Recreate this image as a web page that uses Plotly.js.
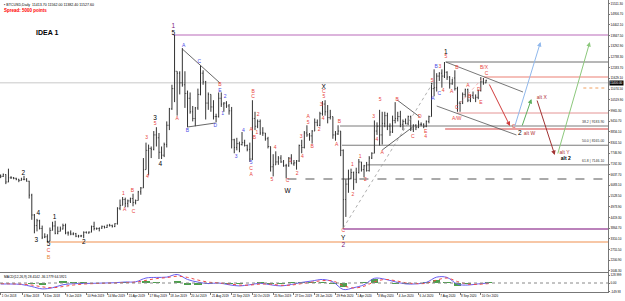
<!DOCTYPE html>
<html><head><meta charset="utf-8">
<script src="https://cdn.plot.ly/plotly-3.0.1.min.js"></script>
<style>html,body{margin:0;padding:0;background:#fff;}#chart{width:625px;height:301px;}</style>
</head><body><div id="chart"></div>
<script>
// ---------- DATA ----------
// 4-day OHLC bars of BTCUSD starting 2018-10-01 (day 0), step 4 days
const barHigh = [
6650,6700,6660,6950,6560,6520,6480,6420,6480,6580,
6460,6320,5650,4600,4350,4300,4000,3600,3550,3900,
4200,4250,3950,3950,4100,4100,3700,3750,3650,3620,
3520,3520,3700,3700,3700,4000,4200,3900,3900,4000,
3990,4050,4090,4050,4120,4950,5350,5480,5450,5350,
5450,5650,5350,5800,6000,7500,8300,8200,8100,8900,
9100,8800,8100,8300,9400,10100,11300,13880,12000,12000,
13200,12000,11000,10900,10200,10150,11100,12300,12050,11500,
10900,10800,10500,9800,10900,10900,10400,10450,10300,10150,
8500,8550,8350,8850,8450,8200,8300,10500,9900,9500,
9500,9100,8800,8600,8100,7700,7850,7600,7650,7400,
7200,7550,7700,7400,7400,8200,8450,8900,9200,8800,
8950,9550,9500,9900,10450,10500,10250,10000,9650,8900,
9200,8900,7950,6400,6900,6950,6800,7000,7450,7300,
7150,7300,7600,7800,9450,9350,10000,9900,9900,9850,
9300,9700,10400,9900,9950,9500,9550,9700,9700,9250,
9250,9450,9350,9300,9450,9700,11400,12100,11900,11950,
12100,12480,12000,11750,11600,12050,11200,10450,10900,11100,
11100,10800,10950,10800,11050,11700,11650,11560];
const barLow = [
6460,6520,6150,6250,6420,6400,6350,6250,6330,6350,
6280,5400,4300,3600,3700,3800,3300,3350,3150,3200,
3750,3550,3550,3700,3800,3550,3480,3500,3500,3400,
3380,3400,3350,3600,3580,3650,3750,3780,3700,3830,
3850,3880,3950,3900,3920,4050,4800,5050,4950,4950,
5170,5000,5100,5300,5600,5950,6900,6600,7500,7900,
8100,7450,7450,7550,8050,8950,10000,10400,9700,10800,
11200,10100,9100,9800,9400,9150,10000,10750,11300,9500,
10000,9900,9500,9350,9600,10150,9900,10100,9750,8000,
7750,7900,7800,8150,8100,7850,7300,7400,8950,9050,
8700,8650,8400,8000,6800,6550,7150,7150,7250,7050,
6450,7050,7200,7100,6900,7300,7750,8000,8600,8400,
8250,8900,9150,9150,9700,9700,9300,9500,8500,8400,
8700,7600,3850,4450,5700,6400,5850,6200,6700,6800,
6500,6800,6800,7450,7750,8700,8150,8200,9100,8950,
8650,8800,9300,9400,9100,8950,9250,9200,8900,8850,
8950,9050,9150,9050,9100,9300,9650,10700,10950,11500,
11150,11650,11550,11100,11300,11000,9900,9900,10300,10650,
10400,10400,10600,10400,10550,10950,11300,11380];
const barClose = [
6550,6650,6260,6480,6480,6450,6400,6340,6400,6400,
6300,5580,4550,4000,4250,3850,3400,3420,3200,3750,
3980,3600,3700,3820,4000,3620,3620,3560,3580,3450,
3460,3470,3650,3620,3660,3950,3850,3850,3870,3960,
3900,4020,4000,3950,4100,4900,5050,5350,5150,5280,
5400,5200,5300,5750,5950,6900,7900,8000,7950,8700,
8550,7800,7650,8200,9200,10050,11100,12000,11900,11400,
11300,10850,10600,9900,9550,10100,10800,11900,11450,10350,
10800,10150,9650,9650,10600,10300,10350,10200,9950,8450,
8050,8250,8200,8300,8150,7950,7450,9550,9150,9400,
8800,8800,8500,8100,7050,7150,7300,7500,7300,7100,
7100,7500,7200,7250,7350,8150,8050,8800,8700,8650,
8900,9350,9200,9800,10300,9900,9600,9650,8700,8750,
8900,7900,5350,6150,6450,6750,6400,6750,7300,6900,
7100,6850,7500,7750,8900,9150,8700,9300,9700,9150,
8850,9450,9550,9650,9250,9400,9300,9650,9000,9200,
9100,9250,9250,9150,9400,9650,11100,11150,11750,11900,
11750,11950,11700,11350,11650,11100,10350,10350,10800,11050,
10500,10750,10600,10650,11000,11450,11400,11530];
const firstOpen = 6600;
const barStepDays = 4;

// oscillator (MACD-like) sampled every 16 days
const oscMain = [-17,-17,-25,-60,-100,-80,-30,-12,-8,-5,0,5,17,20,85,95,100,145,60,15,-10,0,-30,-50,-30,-5,-30,-50,-25,10,35,60,20,-110,-80,-30,80,65,20,-15,-15,10,100,95,-20,-35,-15,0];
const oscSignal = [-10,-14,-18,-35,-65,-80,-60,-35,-18,-10,-5,0,8,15,45,75,92,115,95,50,15,2,-15,-35,-35,-18,-20,-38,-35,-10,15,40,35,-45,-85,-55,20,60,40,5,-10,-5,50,85,25,-20,-22,-10];
const oscHist = [-7,-3,-7,-25,-35,0,30,23,10,5,5,5,9,5,40,20,8,30,-35,-35,-25,-2,-15,-15,5,13,-10,-12,10,20,20,20,-15,-65,5,25,60,5,-20,-20,-5,15,50,10,-45,-15,7,10];
const oscStepDays = 16;

// axis ticks
const xTickDates = ['2018-10-01','2018-11-04','2018-12-06','2019-01-09','2019-02-10','2019-03-14','2019-04-15','2019-05-17','2019-06-18','2019-07-20','2019-08-21','2019-09-22','2019-10-24','2019-11-25','2019-12-27','2020-01-28','2020-02-29','2020-04-01','2020-05-03','2020-06-04','2020-07-06','2020-08-07','2020-09-08','2020-10-10'];
const xTickLabels = ['1 Oct 2018','4 Nov 2018','6 Dec 2018','9 Jan 2019','10 Feb 2019','14 Mar 2019','15 Apr 2019','17 May 2019','18 Jun 2019','20 Jul 2019','21 Aug 2019','22 Sep 2019','24 Oct 2019','25 Nov 2019','27 Dec 2019','28 Jan 2020','29 Feb 2020','1 Apr 2020','3 May 2020','4 Jun 2020','6 Jul 2020','7 Aug 2020','8 Sep 2020','10 Oct 2020'];
const yTickValues = [1646.3,2200.9,2755.5,3310.1,3864.7,4419.3,4973.9,5528.5,6083.1,6637.7,7192.3,7746.9,8301.5,8856.1,9410.7,9965.3,10519.9,11074.5,11629.1,12183.7,12738.3,13292.9,13847.5,14402.1,14956.7,15511.3];
const yTickLabels = ['1646.30','2200.90','2755.50','3310.10','3864.70','4419.30','4973.90','5528.50','6083.10','6637.70','7192.30','7746.90','8301.50','8856.10','9410.70','9965.30','10519.90','11074.50','11629.10','12183.70','12738.30','13292.90','13847.50','14402.10','14956.70','15511.30'];
const oscTickValues = [129, 0, -150];
const oscTickLabels = ['128.999','0.00','-149.93'];
const bidPrice = 11400;

// horizontal levels (price, from day, to day)
const levelPrices   = [13880, 11400, 12480, 11702, 9836, 9162, 9007, 8165, 7147, 6415, 3823, 3149, 11132];
const levelFromDays = [266, -2, 686, 745, 703, 523, 685, 526, 565, 442, 528, 75, 898];
const levelToDays   = [936, 936, 936, 936, 936, 936, 936, 936, 936, 932, 936, 936, 932];
const fibPrices = [9162, 8165, 7147];
const fibLabels = ['38.2 | 9183.90', '50.0 | 8165.00', '61.8 | 7146.10'];

// trend / pattern lines
const lineStartDays   = [280, 288, 611, 588, 528, 686, 672, 708];
const lineStartPrices = [13154, 9110, 10510, 7918, 3874, 12480, 10199, 10354];
const lineEndDays     = [338, 331, 646, 635, 666, 805, 795, 743];
const lineEndPrices   = [11391, 9318, 9629, 9110, 11391, 10925, 8696, 11650];

// projection arrows
const projStartDays   = [752, 792, 803, 826, 858];
const projStartPrices = [11391, 9110, 9110, 10562, 7659];
const projEndDays     = [785, 832, 818, 854, 908];
const projEndPrices   = [9162, 13517, 10562, 7659, 13517];

// wave labels
const blackDays   = [35, 58, 55, 83, 74, 128, 238, 246, 266, 498, 442, 528, 686, 800];
const blackPrices = [6726, 4652, 3252, 4445, 3045, 3149, 9577, 7192, 13983, 11184, 5793, 3330, 12998, 8799];
const blackTexts  = ['2','4','3','1','5','2','3','4','5','X','W','Y','1','2'];
const purpleDays   = [266, 528];
const purplePrices = [14346, 2950];
const purpleTexts  = ['1','2'];
const orangeDays   = [74];
const orangePrices = [2319];
const orangeTexts  = ['B'];
const blueDays   = [282, 288, 306, 331, 338, 342, 346, 363, 374, 386, 666, 671, 676];
const bluePrices = [13309, 8903, 12480, 9162, 10977, 9784, 10666, 7556, 8903, 7245, 10562, 12221, 10821];
const blueTexts  = ['A','B','C','D','E','1','2','3','4','5','A','B','C'];
const redDays = [74, 189, 191, 203, 205, 226, 225, 238, 272, 338, 386, 386, 389, 389, 386, 391, 395, 397,
  423, 418, 446, 457, 463, 465, 442, 474, 474, 480, 491, 497, 494, 498, 498, 518, 522, 528,
  542, 543, 554, 562, 575, 580, 585, 588, 611, 635, 646, 655, 655, 665, 677, 682, 686,
  695, 703, 703, 703, 720, 723, 737, 740, 745, 749, 791];
const redPrices = [2682, 5637, 4808, 5793, 4704, 6518, 8540, 9266, 9525, 11288, 6933, 6622, 10925, 10666, 8955, 8540, 8799, 9732,
  8022, 6363, 7348, 6674, 8592, 7556, 6311, 9629, 9318, 8074, 8955, 9525, 10251, 10925, 10666, 8177, 9370, 3720,
  7140, 5585, 7556, 6363, 9629, 8436, 10510, 7763, 10510, 8592, 9629, 8851, 8592, 11495, 12221, 10977, 12739,
  10925, 12169, 10095, 9525, 11236, 10666, 11028, 10354, 12200, 11860, 9110];
const redTexts = ['C','1','A','B','C','4','3','5','A','B','C','A','B','C','A','B','1','2',
  '4','5','1','2','3','4','C','A','5','B','2','4','3','C','5','A','B','C',
  '1','2','1','2','3','4','5','A','B','C','D','E','4','5','3','4','5',
  'A','B','C','A/W','A','B','D','E','B/X','C','C'];
const altDays   = [815, 834, 869];
const altPrices = [8747, 10614, 7763];
const altTexts  = ['alt W','alt X','alt Y'];
const altBlackDays = [871];
const altBlackPrices = [7451];
const altBlackTexts = ['alt 2'];

// ---------- BUILD ----------
const FONT = 'Liberation Sans, Arial, sans-serif';
function dayToDate(d) {
  return new Date(Date.UTC(2018, 9, 1) + Math.round(d) * 86400000).toISOString().slice(0, 10);
}
const barDates = barClose.map((_, i) => dayToDate(i * barStepDays));
const barOpen = barClose.map((c, i) => i === 0 ? firstOpen : barClose[i - 1]);
const oscDates = oscMain.map((_, i) => dayToDate(i * oscStepDays));

const traces = [];
traces.push({type:'ohlc', x:barDates, open:barOpen, high:barHigh, low:barLow, close:barClose,
  xaxis:'x', yaxis:'y', tickwidth:0.3, hoverinfo:'skip',
  increasing:{line:{color:'#333333', width:1}}, decreasing:{line:{color:'#333333', width:1}}});

const lineColors = ['#404040','#404040','#404040','#404040','#9a9a9a','#555555','#555555','#f0a0a0'];
const lineDashes = ['solid','solid','solid','solid','dot','solid','solid','dot'];
lineStartDays.forEach((d, i) => {
  traces.push({type:'scatter', mode:'lines', x:[dayToDate(d), dayToDate(lineEndDays[i])],
    y:[lineStartPrices[i], lineEndPrices[i]], line:{color:lineColors[i], width:0.8, dash:lineDashes[i]},
    hoverinfo:'skip', xaxis:'x', yaxis:'y'});
});

function labelTrace(days, prices, texts, color, size, bold) {
  return {type:'scatter', mode:'text', x:days.map(dayToDate), y:prices,
    text: texts.map(t => bold ? '<b>' + t + '</b>' : t), textposition:'middle center',
    textfont:{family:FONT, size:size, color:color}, cliponaxis:false, hoverinfo:'skip', xaxis:'x', yaxis:'y'};
}
traces.push(labelTrace(redDays, redPrices, redTexts, '#e8443c', 5, false));
traces.push(labelTrace(blueDays, bluePrices, blueTexts, '#4a4ae6', 5, false));
traces.push(labelTrace(orangeDays, orangePrices, orangeTexts, '#e88a3a', 5.5, false));
traces.push(labelTrace(blackDays, blackPrices, blackTexts, '#000000', 6.5, false));
traces.push(labelTrace(purpleDays, purplePrices, purpleTexts, '#7a1a7a', 6.5, false));
traces.push(labelTrace(altDays, altPrices, altTexts, '#b03030', 5, false));
traces.push(labelTrace(altBlackDays, altBlackPrices, altBlackTexts, '#000000', 5, true));

// oscillator
traces.push({type:'bar', x:oscDates, y:oscHist, marker:{color:'#2f8f2f'}, opacity:0.85, width:16*86400000*0.7,
  xaxis:'x2', yaxis:'y2', hoverinfo:'skip'});
traces.push({type:'scatter', mode:'lines', x:oscDates, y:oscMain, line:{color:'#6a5cf0', width:1, shape:'spline'},
  xaxis:'x2', yaxis:'y2', hoverinfo:'skip'});
traces.push({type:'scatter', mode:'lines', x:oscDates, y:oscSignal, line:{color:'#f04848', width:1, dash:'dot', shape:'spline'},
  xaxis:'x2', yaxis:'y2', hoverinfo:'skip'});

const levelColors = ['#dcb4dc','#c8c8c8','#6e6e6e','#f2aaa2','#e49494','#7a7a7a','#eaa0a0','#7a7a7a','#7a7a7a','#555555','#a458a4','#f4b488','#f0a060'];
const levelWidths = [2,1,1,1.5,1,1,2,1,1,1,1.5,1.5,1];
const levelDash = ['solid','solid','solid','solid','solid','solid','solid','solid','solid','dash','solid','solid','dot'];
const shapes = levelPrices.map((p, i) => ({type:'line', xref:'x', yref:'y',
  x0:dayToDate(levelFromDays[i]), x1:dayToDate(levelToDays[i]), y0:p, y1:p,
  line:{color:levelColors[i], width:levelWidths[i], dash:levelDash[i]}, layer:'below'}));
shapes.push({type:'line', xref:'paper', yref:'y2', x0:0, x1:1, y0:0, y1:0, line:{color:'#888', width:1, dash:'dot'}});

const projColors = ['#d03c3c','#90b8ec','#5cae5c','#a03232','#8cc87c'];
const annotations = [];
projStartDays.forEach((d, i) => {
  annotations.push({xref:'x', yref:'y', axref:'x', ayref:'y', x:dayToDate(projEndDays[i]), y:projEndPrices[i],
    ax:dayToDate(d), ay:projStartPrices[i], text:'', showarrow:true, arrowhead:2, arrowsize:0.9,
    arrowwidth:1, arrowcolor:projColors[i]});
});
fibPrices.forEach((p, i) => {
  annotations.push({xref:'paper', yref:'y', x:0.997, y:p, xanchor:'right', yanchor:'bottom', text:fibLabels[i],
    showarrow:false, font:{family:FONT, size:3.5, color:'#333'}});
});
annotations.push({xref:'paper', yref:'y', x:1.001, y:bidPrice, xanchor:'left', yanchor:'middle',
  text:bidPrice.toFixed(2), showarrow:false, bgcolor:'#000', font:{family:FONT, size:3, color:'#fff'}, borderpad:0});
annotations.push({xref:'paper', yref:'paper', x:0.004, y:0.998, xanchor:'left', yanchor:'top',
  text:'&#9642; BTCUSD,Daily  11413.70 11562.00 11382.40 11527.60', showarrow:false, font:{family:FONT, size:3.6, color:'#000'}});
annotations.push({xref:'paper', yref:'paper', x:0.004, y:0.978, xanchor:'left', yanchor:'top',
  text:'<b>Spread: 5000 points</b>', showarrow:false, font:{family:FONT, size:4.5, color:'#ff0000'}});
annotations.push({xref:'paper', yref:'paper', x:47/608, y:1 - 32/292, xanchor:'center', yanchor:'middle',
  text:'<b>IDEA 1</b>', showarrow:false, font:{family:FONT, size:7, color:'#000'}});
annotations.push({xref:'paper', yref:'paper', x:0.004, y:0.064, xanchor:'left', yanchor:'top',
  text:'MACD(12,26,9) 28.4142 -36.1779 64.5921', showarrow:false, font:{family:FONT, size:3.3, color:'#000'}});

const xRange = ['2018-09-30', '2021-04-24'];
const tickFont = {family:FONT, size:3, color:'#000'};
const layout = {
  width:625, height:301, margin:{l:0, r:17, t:0, b:9},
  paper_bgcolor:'#fff', plot_bgcolor:'#fff', showlegend:false, bargap:0,
  font:{family:FONT, size:4, color:'#000'},
  xaxis:{type:'date', range:xRange, anchor:'y', showticklabels:false, showgrid:false, zeroline:false,
    showline:true, mirror:true, linecolor:'#777', linewidth:1, ticks:'', rangeslider:{visible:false}},
  xaxis2:{type:'date', range:xRange, anchor:'y2', matches:'x', showgrid:false, zeroline:false,
    showline:true, mirror:true, linecolor:'#777', linewidth:1, tickmode:'array', tickvals:xTickDates, ticktext:xTickLabels,
    tickangle:0, ticklabelposition:'outside right', ticks:'outside', ticklen:2, tickcolor:'#777', tickfont:tickFont,
    rangeslider:{visible:false}},
  yaxis:{domain:[20/292, 1], range:[1594, 15694], side:'right', showgrid:false, zeroline:false,
    showline:true, mirror:true, linecolor:'#777', linewidth:1, tickmode:'array', tickvals:yTickValues, ticktext:yTickLabels,
    ticks:'outside', ticklen:1, tickcolor:'#777', tickfont:tickFont},
  yaxis2:{domain:[0, 19/292], range:[-153, 170], side:'right', showgrid:false, zeroline:false,
    showline:true, mirror:true, linecolor:'#777', linewidth:1, tickmode:'array', tickvals:oscTickValues, ticktext:oscTickLabels,
    ticks:'outside', ticklen:1, tickcolor:'#777', tickfont:tickFont},
  shapes:shapes, annotations:annotations
};
Plotly.newPlot('chart', traces, layout, {displayModeBar:false, staticPlot:true});
</script>
</body></html>
